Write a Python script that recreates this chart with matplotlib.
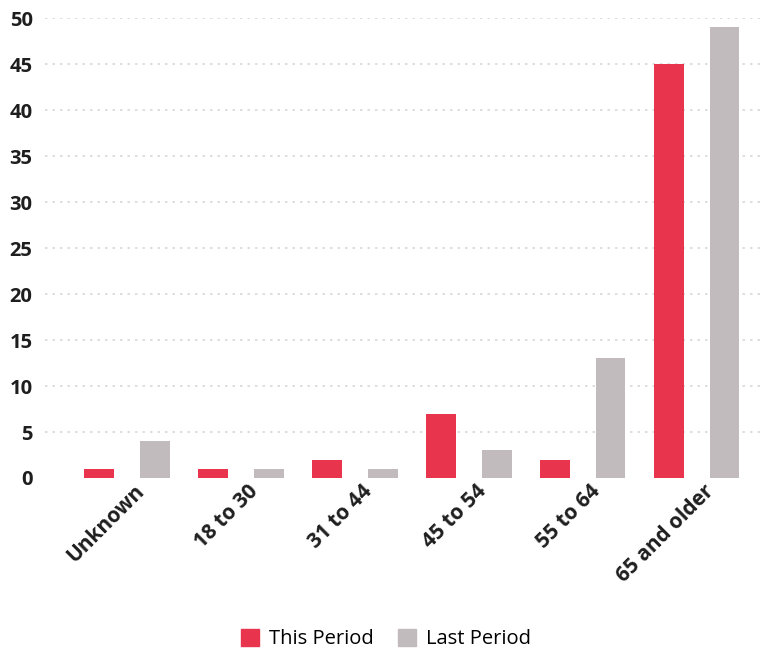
import numpy as np
import matplotlib.pyplot as plt
import matplotlib as mpl
from matplotlib.patches import Patch

mpl.rcParams.update({
    "font.family": ["Open Sans", "DejaVu Sans"],
    "axes.spines.top": False,
    "axes.spines.right": False,
    "axes.spines.left": False,
    "axes.spines.bottom": False,
})

categories = ["Unknown", "18 to 30", "31 to 44", "45 to 54", "55 to 64", "65 and older"]
this_period = [1, 1, 2, 7, 2, 45]
last_period = [4, 1, 1, 3, 13, 49]
y_ticks = [0, 5, 10, 15, 20, 25, 30, 35, 40, 45, 50]

RED = "#e8354d"
GREY = "#c2bbbd"
INK = "#1e1e1e"

fig = plt.figure(figsize=(7.65, 6.53), dpi=100)
ax = fig.add_axes([0.059, 0.268, 0.941, 0.704])

x = np.arange(len(categories))
w = 0.26
off = 0.245
ax.bar(x - off, this_period, width=w, color=RED, zorder=3)
ax.bar(x + off, last_period, width=w, color=GREY, zorder=3)

ax.set_xlim(-0.72, 5.6)
ax.set_ylim(0, 50)
ax.set_yticks(y_ticks)
ax.set_yticklabels([str(v) for v in y_ticks], fontsize=14.5, fontweight="bold", color=INK)
ax.tick_params(axis="y", length=0, pad=9)
ax.tick_params(axis="x", length=0, pad=2)
# labels hang slightly right of the group centre
ax.set_xticks(x + 0.06)
ax.set_xticklabels(categories, rotation=45, ha="right", rotation_mode="anchor",
                   fontsize=15, fontweight="bold", color=INK)

for v in y_ticks[1:]:
    ax.axhline(v, color="#d8d8d8", lw=1.2, ls=(0, (1.5, 3)), zorder=1)

handles = [Patch(color=RED, label="This Period"), Patch(color=GREY, label="Last Period")]
fig.legend(handles=handles, loc="lower center", bbox_to_anchor=(0.505, -0.022), ncol=2,
           frameon=False, fontsize=14.5, handlelength=0.9, handleheight=0.9,
           handletextpad=0.5, columnspacing=1.2)

fig.savefig("out.png", dpi=100)
